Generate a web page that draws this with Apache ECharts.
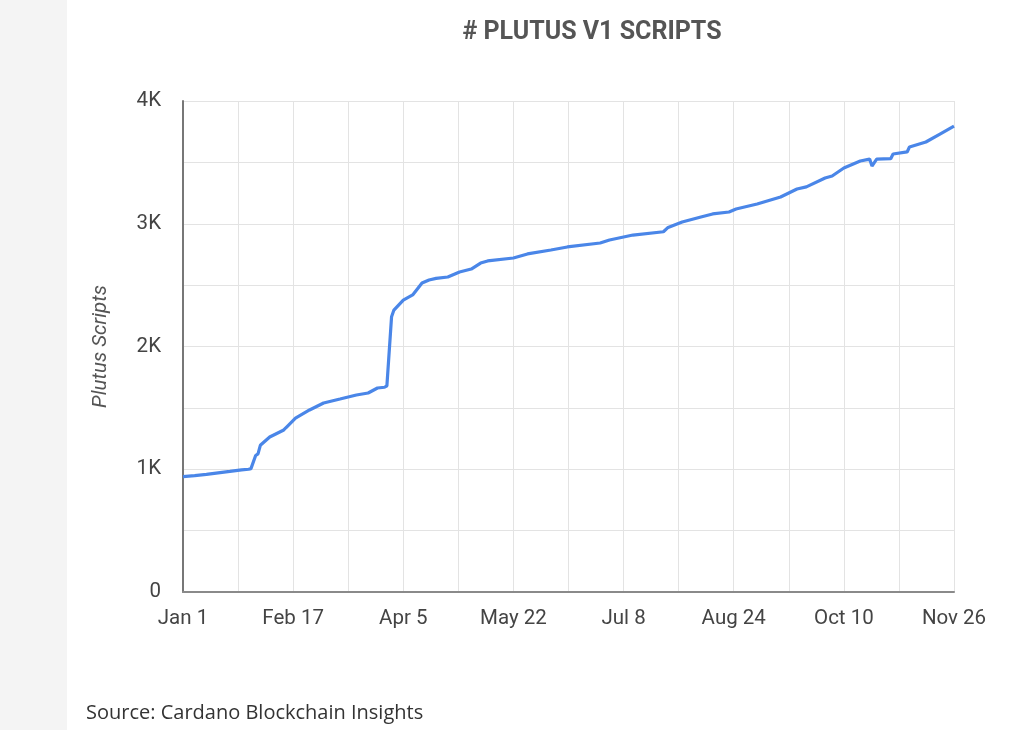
<!DOCTYPE html>
<html><head><meta charset="utf-8">
<script src="https://cdn.jsdelivr.net/npm/echarts@6/dist/echarts.min.js"></script>
<style>html,body{margin:0;padding:0;background:#fff}#c{width:1026px;height:730px}</style>
</head><body><div id="c"></div>
<script>
const startDate = '2022-01-01';
const dates = ['2022-01-01','2022-01-06','2022-01-11','2022-01-16','2022-01-21','2022-01-26','2022-01-29','2022-01-30','2022-02-01','2022-02-02','2022-02-03','2022-02-07','2022-02-13','2022-02-14','2022-02-18','2022-02-24','2022-03-02','2022-03-09','2022-03-16','2022-03-21','2022-03-25','2022-03-28','2022-03-29','2022-03-31','2022-04-01','2022-04-05','2022-04-09','2022-04-13','2022-04-16','2022-04-19','2022-04-24','2022-04-29','2022-05-04','2022-05-08','2022-05-11','2022-05-22','2022-05-28','2022-06-07','2022-06-14','2022-06-28','2022-07-02','2022-07-12','2022-07-25','2022-07-27','2022-08-02','2022-08-10','2022-08-15','2022-08-22','2022-08-25','2022-09-03','2022-09-13','2022-09-20','2022-09-24','2022-10-02','2022-10-05','2022-10-10','2022-10-17','2022-10-21','2022-10-22','2022-10-24','2022-10-30','2022-10-31','2022-11-06','2022-11-07','2022-11-14','2022-11-20','2022-11-26'];
const scripts = [940,948,958,970,982,995,1000,1005,1112,1125,1195,1263,1320,1340,1417,1483,1540,1572,1605,1621,1662,1668,1680,2243,2297,2378,2420,2517,2542,2555,2566,2607,2631,2680,2697,2721,2754,2786,2811,2843,2868,2908,2935,2970,3014,3055,3080,3096,3120,3161,3218,3283,3300,3373,3389,3454,3511,3527,3470,3527,3530,3568,3585,3625,3666,3731,3796];
const xTickLabels = ['Jan 1','Feb 17','Apr 5','May 22','Jul 8','Aug 24','Oct 10','Nov 26'];
const yTickLabels = ['0','1K','2K','3K','4K'];

const DAY = 86400000;
const t0 = Date.parse(startDate + 'T00:00:00Z');
const toDay = d => Math.round((Date.parse(d + 'T00:00:00Z') - t0) / DAY);
const seriesData = dates.map((d, i) => [toDay(d), scripts[i]]);
const tickStep = 47;

const chart = echarts.init(document.getElementById('c'));
chart.setOption({
  animation: false,
  backgroundColor: '#ffffff',
  graphic: [
    { type: 'rect', left: 0, top: 0, shape: { width: 67, height: 730 }, style: { fill: '#f4f4f4' }, z: -10 },
    { type: 'text', left: 86, top: 703, style: { text: 'Source: Cardano Blockchain Insights', font: '20px "Open Sans"', fill: '#333333' } }
  ],
  title: {
    text: '# PLUTUS V1 SCRIPTS',
    left: 587, top: 15, textAlign: 'center',
    textStyle: { fontFamily: 'Roboto', fontSize: 25, fontWeight: 'bold', color: '#555555' }
  },
  grid: { left: 183, right: 72, top: 101, bottom: 138, containLabel: false },
  xAxis: {
    type: 'value', min: 0, max: tickStep * (xTickLabels.length - 1), interval: tickStep,
    axisLine: { show: true, lineStyle: { color: '#8a8a8a', width: 2 } },
    axisTick: { show: false },
    splitLine: { show: true, lineStyle: { color: '#e3e3e3', width: 1 } },
    minorTick: { show: false, splitNumber: 2 },
    minorSplitLine: { show: true, lineStyle: { color: '#e3e3e3', width: 1 } },
    axisLabel: {
      margin: 16, fontFamily: 'Roboto', fontSize: 20.5, color: '#444',
      formatter: v => xTickLabels[Math.round(v / tickStep)] || ''
    }
  },
  yAxis: {
    type: 'value', min: 0, max: 4000, interval: 1000,
    name: 'Plutus Scripts', nameLocation: 'middle', nameGap: 72,
    nameTextStyle: { fontFamily: 'Roboto', fontSize: 20.5, fontStyle: 'italic', color: '#555' },
    axisLine: { show: true, lineStyle: { color: '#777', width: 2 } },
    axisTick: { show: false },
    splitLine: { show: true, lineStyle: { color: '#e3e3e3', width: 1 } },
    minorTick: { show: false, splitNumber: 2 },
    minorSplitLine: { show: true, lineStyle: { color: '#e3e3e3', width: 1 } },
    axisLabel: {
      margin: 22, fontFamily: 'Roboto', fontSize: 20.5, color: '#444',
      formatter: v => yTickLabels[Math.round(v / 1000)] || ''
    }
  },
  series: [{
    type: 'line', data: seriesData, showSymbol: false,
    lineStyle: { color: '#4a86e8', width: 3.2 }, itemStyle: { color: '#4a86e8' }
  }]
});
</script></body></html>
